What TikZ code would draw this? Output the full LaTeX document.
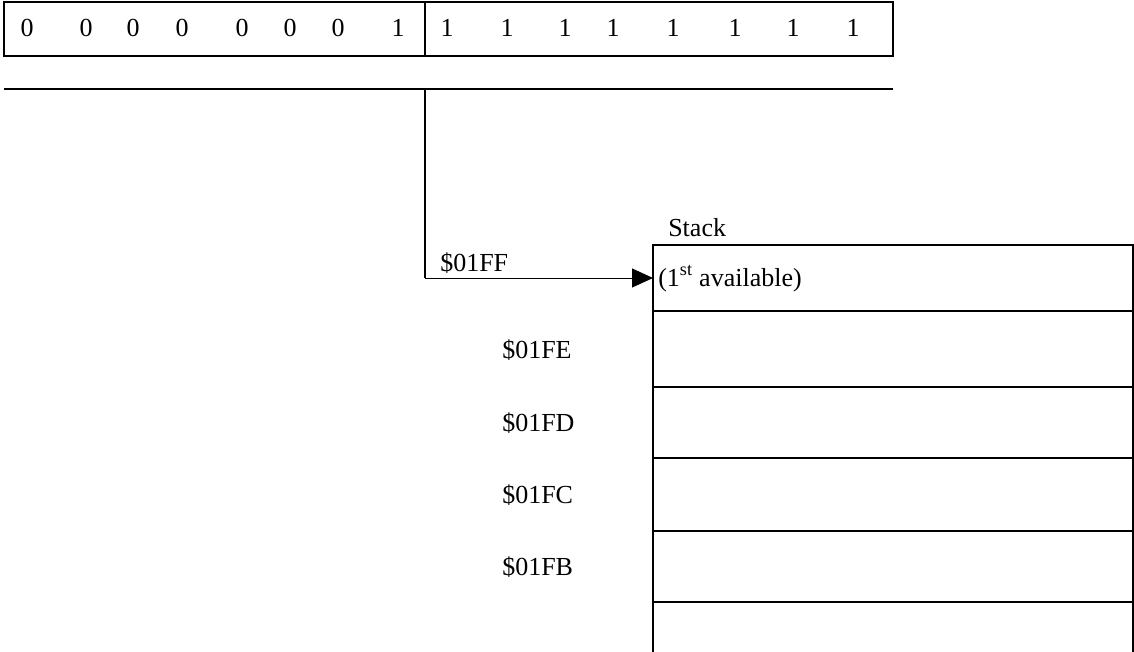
\documentclass[tikz,border=0pt]{standalone}
\usepackage{fontspec}
\setmainfont{Liberation Serif}
\usetikzlibrary{arrows.meta,positioning}

\begin{document}
\begin{tikzpicture}[x=0.75pt,y=-0.75pt,
    font=\fontsize{19.5}{23}\selectfont,
    regbox/.style={draw,line width=1.5pt,inner sep=0pt,outer sep=0pt,anchor=north west,minimum height=40.5pt},
    cell/.style={draw,line width=1.5pt,inner sep=0pt,outer sep=0pt,minimum width=360pt},
    bit/.style={inner sep=0pt},
    addr/.style={inner sep=0pt,anchor=base west}]
\useasboundingbox (0,0) rectangle (1134,652);

% the register
\node[regbox,minimum width=315.75pt] (hibyte) at (4,2) {};
\node[regbox,minimum width=351pt] (lobyte) at (425,2) {};
\foreach \x/\d [count=\i] in {27/0,86/0,133/0,182/0,242/0,290/0,338/0,398/1,
                              447/1,507/1,565/1,613/1,673/1,735/1,793/1,853/1}
    \node[bit] (bit\i) at (\x,28) {\d};

% bus line and link down to the stack
\coordinate (busL) at (4,89);
\coordinate (busR) at (893,89);
\coordinate (tap) at (425,89);
\coordinate (bend) at (425,278);
\draw[line width=1.5pt] (busL) -- (busR);
\draw[line width=1.5pt] (tap) -- (bend);

% the stack
\node[cell,minimum height=49.5pt,anchor=north west] (cell1) at (653,245) {};
\node[cell,minimum height=57pt,below=0pt of cell1] (cell2) {};
\node[cell,minimum height=53.25pt,below=0pt of cell2] (cell3) {};
\node[cell,minimum height=54.75pt,below=0pt of cell3] (cell4) {};
\node[cell,minimum height=53.25pt,below=0pt of cell4] (cell5) {};
\draw[line width=1.5pt] (cell5.south west) -- ++(0,60);
\draw[line width=1.5pt] (cell5.south east) -- ++(0,60);

\draw[line width=0.75pt,-{Triangle[length=15.75pt,width=14.25pt]}] (bend) -- (cell1.west);

\node[addr] (stacklbl) at (668,237) {Stack};
\node[addr] (firstlbl) at (658,286) {(1\textsuperscript{st} available)};
\node[addr] (sp) at (440,272) {\$01FF};
\node[addr] (adrFE) at (502,358) {\$01FE};
\node[addr] (adrFD) at (502,431) {\$01FD};
\node[addr] (adrFC) at (502,503) {\$01FC};
\node[addr] (adrFB) at (502,575) {\$01FB};
\end{tikzpicture}
\end{document}
